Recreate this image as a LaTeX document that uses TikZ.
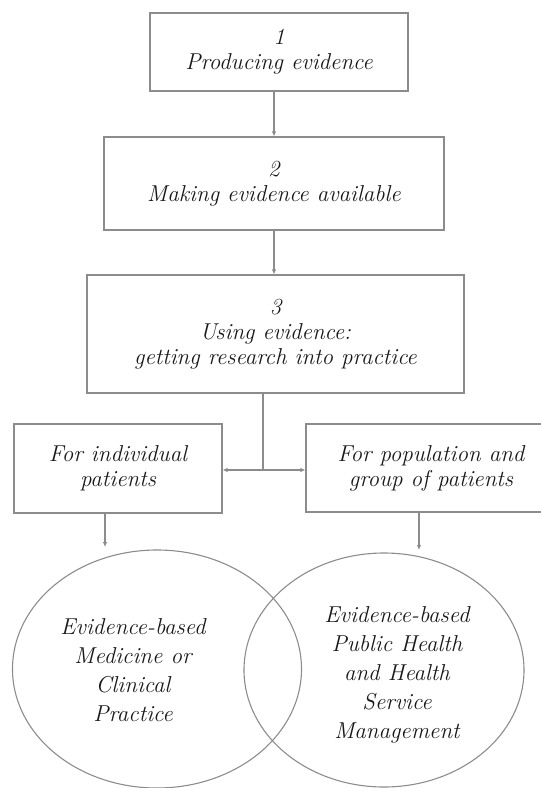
\documentclass[tikz,border=0pt]{standalone}
\usetikzlibrary{arrows.meta,shapes.geometric}
\begin{document}
\begin{tikzpicture}[x=1pt,y=1pt,
  line/.style={draw=black!45,line width=1.1pt},
  arr/.style={line,-{Latex[length=5pt,width=4.5pt]}},
  stage/.style={line,rectangle,inner sep=0pt,align=center,
    font=\fontsize{23}{25}\selectfont\itshape,text=black!90},
  field/.style={line,ellipse,inner sep=0pt},
  fieldtext/.style={align=center,inner sep=0pt,
    font=\fontsize{23}{29}\selectfont\itshape,text=black!90}]
\useasboundingbox (0,0) rectangle (541,-788);

% three stages of evidence
\node[stage,minimum width=258,minimum height=78] (b1) at (279,-52)
  {1\\Producing evidence};
\node[stage,minimum width=340,minimum height=93] (b2) at (274,-183.5)
  {2\\Making evidence available};
\node[stage,minimum width=377,minimum height=118] (b3) at (275.5,-334)
  {3\\Using evidence:\\getting research into practice};

% two ways of applying evidence
\node[stage,minimum width=208,minimum height=89] (lb) at (118,-468.5)
  {For individual\\patients};
\node[stage,minimum width=250,minimum height=88] (rb) at (431,-468)
  {For population and\\group of patients};

% overlapping fields of practice
\node[field,minimum width=289,minimum height=238] (e1) at (157,-669) {};
\node[field,minimum width=280,minimum height=234] (e2) at (384,-670) {};
\node[fieldtext] (t1) at (133,-670)
  {Evidence-based\\Medicine or\\Clinical\\Practice};
\node[fieldtext] (t2) at (397,-675)
  {Evidence-based\\Public Health\\and Health\\Service\\Management};

% connectors
\coordinate (j) at (263,-470);
\coordinate (la) at (105,-547);
\coordinate (ra) at (419,-550);
\draw[arr] (b1.south -| b2.north) -- (b2.north);
\draw[arr] (b2.south) -- (b2.south |- b3.north);
\draw[line] (b3.south -| j) -- (j);
\draw[arr] (j) -- (lb.east |- j);
\draw[arr] (j) -- (rb.west |- j);
\draw[arr] (lb.south -| la) -- (la);
\draw[arr] (rb.south -| ra) -- (ra);
\end{tikzpicture}
\end{document}
